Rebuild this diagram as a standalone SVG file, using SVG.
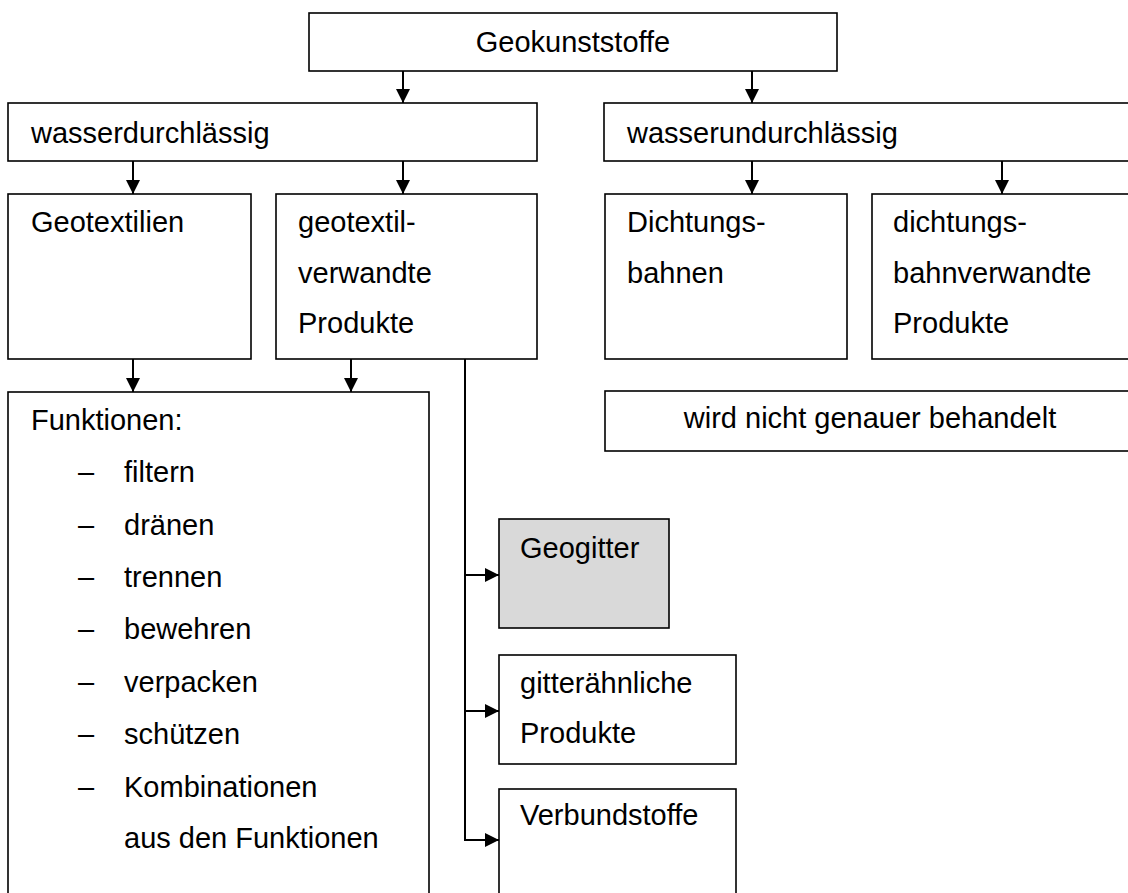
<svg xmlns="http://www.w3.org/2000/svg" width="1128" height="893" viewBox="0 0 1128 893">
<style>
.box{fill:#fff;stroke:#000;stroke-width:1.6}
.grey{fill:#d9d9d9}
.t{font-family:"Liberation Sans",Arial,sans-serif;font-size:29px;fill:#000}
.c{stroke:#000;stroke-width:2;fill:none}
</style>
<defs>
<marker id="ah" viewBox="0 0 14 14" refX="14" refY="7" markerWidth="14" markerHeight="14" markerUnits="userSpaceOnUse" orient="auto">
<path d="M0,0 L14,7 L0,14 z" fill="#000"/>
</marker>
</defs>
<rect width="1128" height="893" fill="#fff"/>
<g id="connectors">
<path class="c" d="M403,71 V103" marker-end="url(#ah)"/>
<path class="c" d="M752,71 V103" marker-end="url(#ah)"/>
<path class="c" d="M133,161 V194" marker-end="url(#ah)"/>
<path class="c" d="M403,161 V194" marker-end="url(#ah)"/>
<path class="c" d="M752,161 V194" marker-end="url(#ah)"/>
<path class="c" d="M1002,161 V194" marker-end="url(#ah)"/>
<path class="c" d="M133,359 V392" marker-end="url(#ah)"/>
<path class="c" d="M351,359 V392" marker-end="url(#ah)"/>
<path class="c" d="M465,359 V840 H499" marker-end="url(#ah)"/>
<path class="c" d="M465,575 H499" marker-end="url(#ah)"/>
<path class="c" d="M465,711 H499" marker-end="url(#ah)"/>
</g>
<g id="geokunststoffe">
<rect class="box" x="309" y="13" width="528" height="58"/>
<text class="t" x="573" y="52" text-anchor="middle">Geokunststoffe</text>
</g>
<g id="wasserdurchlaessig">
<rect class="box" x="8" y="103" width="529" height="58"/>
<text class="t" x="31" y="143">wasserdurchlässig</text>
</g>
<g id="wasserundurchlaessig">
<rect class="box" x="604" y="103" width="531" height="58"/>
<text class="t" x="627" y="143">wasserundurchlässig</text>
</g>
<g id="geotextilien">
<rect class="box" x="8" y="194" width="243" height="165"/>
<text class="t" x="31" y="232">Geotextilien</text>
</g>
<g id="geotextilverwandte">
<rect class="box" x="276" y="194" width="261" height="165"/>
<text class="t" x="298" y="232">geotextil-</text>
<text class="t" x="298" y="283">verwandte</text>
<text class="t" x="298" y="333">Produkte</text>
</g>
<g id="dichtungsbahnen">
<rect class="box" x="605" y="194" width="242" height="165"/>
<text class="t" x="627" y="232">Dichtungs-</text>
<text class="t" x="627" y="283">bahnen</text>
</g>
<g id="dichtungsbahnverwandte">
<rect class="box" x="872" y="194" width="263" height="165"/>
<text class="t" x="893" y="232">dichtungs-</text>
<text class="t" x="893" y="283">bahnverwandte</text>
<text class="t" x="893" y="333">Produkte</text>
</g>
<g id="nichtbehandelt">
<rect class="box" x="605" y="391" width="530" height="60"/>
<text class="t" x="870" y="428" text-anchor="middle">wird nicht genauer behandelt</text>
</g>
<g id="funktionen">
<rect class="box" x="8" y="392" width="421" height="520"/>
<text class="t" x="31" y="430">Funktionen:</text>
<g class="t">
<text x="78" y="482">–</text><text x="124" y="482">filtern</text>
<text x="78" y="535">–</text><text x="124" y="535">dränen</text>
<text x="78" y="587">–</text><text x="124" y="587">trennen</text>
<text x="78" y="639">–</text><text x="124" y="639">bewehren</text>
<text x="78" y="692">–</text><text x="124" y="692">verpacken</text>
<text x="78" y="744">–</text><text x="124" y="744">schützen</text>
<text x="78" y="797">–</text><text x="124" y="797">Kombinationen</text>
<text x="124" y="848">aus den Funktionen</text>
</g>
</g>
<g id="geogitter">
<rect class="box grey" x="499" y="519" width="170" height="109"/>
<text class="t" x="520" y="558">Geogitter</text>
</g>
<g id="gitteraehnliche">
<rect class="box" x="499" y="655" width="237" height="109"/>
<text class="t" x="520" y="693">gitterähnliche</text>
<text class="t" x="520" y="743">Produkte</text>
</g>
<g id="verbundstoffe">
<rect class="box" x="499" y="789" width="237" height="120"/>
<text class="t" x="520" y="825">Verbundstoffe</text>
</g>
</svg>
